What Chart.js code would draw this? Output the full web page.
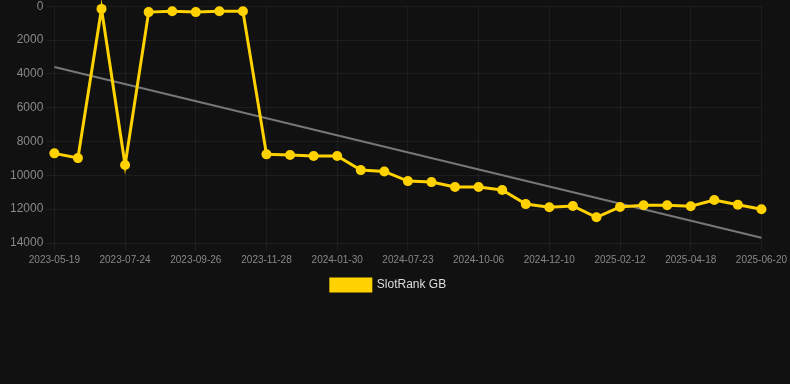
<!DOCTYPE html>
<html>
<head>
<meta charset="utf-8">
<script src="https://cdn.jsdelivr.net/npm/chart.js@4/dist/chart.umd.min.js"></script>
<style>
  html, body { margin: 0; padding: 0; background: #111111; overflow: hidden; }
  #wrap { width: 790px; height: 305px; margin-top: -4px; position: relative; }
</style>
</head>
<body>
<div id="wrap"><canvas id="rankChart"></canvas></div>
<script>
// --- Data ---
const dates = [
  '2023-05-19', '2023-06-10', '2023-07-02', '2023-07-24', '2023-08-14', '2023-09-04',
  '2023-09-26', '2023-10-17', '2023-11-07', '2023-11-28', '2023-12-19', '2024-01-09',
  '2024-01-30', '2024-03-28', '2024-05-25', '2024-07-23', '2024-08-17', '2024-09-11',
  '2024-10-06', '2024-10-28', '2024-11-18', '2024-12-10', '2024-12-31', '2025-01-22',
  '2025-02-12', '2025-03-05', '2025-03-27', '2025-04-18', '2025-05-09', '2025-05-30',
  '2025-06-20'
];

const rankGB = [
  8700, 8980, 160, 9390, 350, 300, 350, 300, 300, 8760,
  8800, 8860, 8860, 9690, 9770, 10340, 10400, 10690, 10690, 10870,
  11700, 11890, 11810, 12480, 11870, 11770, 11770, 11830, 11460, 11740,
  12000
];

// trend line: only its two ends are read, the rest is spanned
const trendStart = 3590;
const trendEnd = 13690;
const trend = dates.map((d, i) => i === 0 ? trendStart : (i === dates.length - 1 ? trendEnd : null));

const yTicks = { min: 0, max: 14000, step: 2000 };

// --- Chart ---
const ctx = document.getElementById('rankChart').getContext('2d');
new Chart(ctx, {
  type: 'line',
  data: {
    labels: dates,
    datasets: [
      {
        label: 'SlotRank GB',
        data: rankGB,
        borderColor: '#FFD200',
        backgroundColor: '#FFD200',
        borderWidth: 3,
        pointRadius: 5,
        pointHoverRadius: 5,
        pointBackgroundColor: '#FFD200',
        pointBorderWidth: 0,
        tension: 0,
        fill: false,
        clip: false
      },
      {
        label: 'trend',
        data: trend,
        borderColor: '#777777',
        borderWidth: 2,
        pointRadius: 0,
        spanGaps: true,
        tension: 0,
        fill: false
      }
    ]
  },
  options: {
    responsive: true,
    maintainAspectRatio: false,
    animation: false,
    layout: { padding: { left: 7, right: 20, top: 0, bottom: 0 } },
    scales: {
      x: {
        grid: { color: 'rgba(255,255,255,0.05)' },
        border: { display: false },
        ticks: {
          color: '#888888',
          font: { size: 10, family: 'Liberation Sans, Arial, sans-serif' },
          maxRotation: 0,
          autoSkip: true
        }
      },
      y: {
        reverse: true,
        min: yTicks.min,
        max: yTicks.max,
        grid: { color: 'rgba(255,255,255,0.05)' },
        border: { display: false },
        ticks: {
          stepSize: yTicks.step,
          color: '#888888',
          font: { size: 12, family: 'Liberation Sans, Arial, sans-serif' },
          callback: v => String(v)
        }
      }
    },
    plugins: {
      legend: {
        position: 'bottom',
        labels: {
          color: '#dddddd',
          boxWidth: 40,
          boxHeight: 12,
          font: { size: 12, family: 'Liberation Sans, Arial, sans-serif' },
          filter: item => item.text !== 'trend'
        }
      },
      tooltip: { enabled: false }
    }
  }
});
</script>
</body>
</html>
